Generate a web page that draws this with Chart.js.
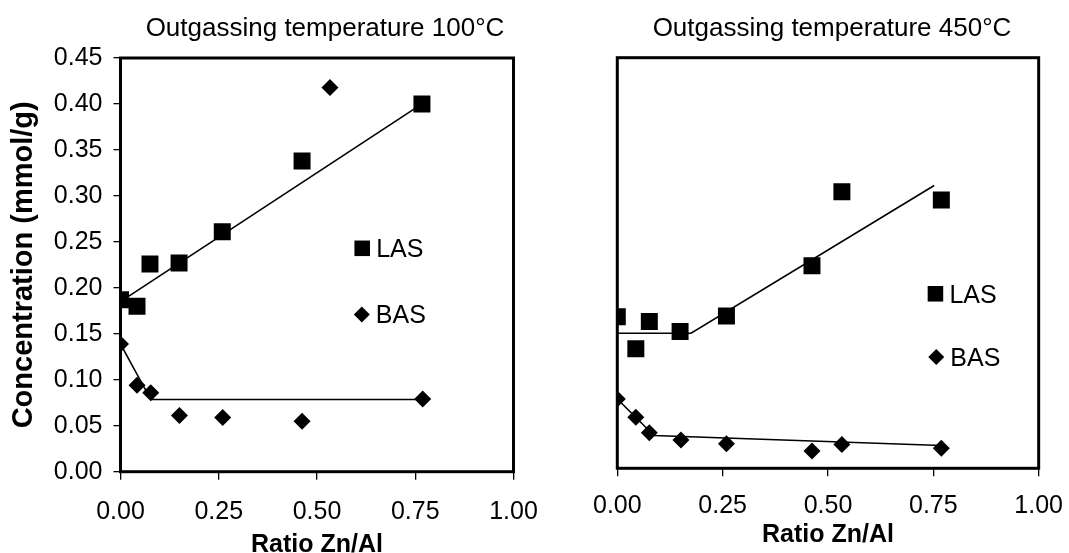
<!DOCTYPE html>
<html>
<head>
<meta charset="utf-8">
<script src="https://cdn.jsdelivr.net/npm/chart.js@4.4.0/dist/chart.umd.min.js"></script>
<style>
  html, body { margin: 0; padding: 0; background: #fff; overflow: hidden; }
  #wrap { position: relative; width: 1069px; height: 553px; overflow: hidden; }
  canvas { position: absolute; top: 0; }
  #chart100 { left: 0; }
  #chart450 { left: 565px; }
</style>
</head>
<body>
<div id="wrap">
  <canvas id="chart100" width="565" height="580"></canvas>
  <canvas id="chart450" width="513" height="580"></canvas>
</div>
<script>
// axis ticks
const xTicks = [0, 0.25, 0.5, 0.75, 1.0];
const yTicks = [0, 0.05, 0.10, 0.15, 0.20, 0.25, 0.30, 0.35, 0.40, 0.45];

// Outgassing 100°C
const ratioLAS100 = [0, 0.042, 0.075, 0.149, 0.259, 0.462, 0.767];
const las100 = [0.187, 0.180, 0.226, 0.227, 0.261, 0.338, 0.400];
const ratioBAS100 = [0, 0.042, 0.077, 0.150, 0.260, 0.462, 0.533, 0.769];
const bas100 = [0.139, 0.094, 0.086, 0.061, 0.059, 0.055, 0.418, 0.079];
const trendLAS100x = [0, 0.77];
const trendLAS100y = [0.185, 0.401];
const trendBAS100x = [0, 0.077, 0.77];
const trendBAS100y = [0.139, 0.0785, 0.0785];

// Outgassing 450°C
const ratioLAS450 = [0, 0.044, 0.076, 0.149, 0.259, 0.462, 0.533, 0.769];
const las450 = [0.166, 0.131, 0.161, 0.150, 0.167, 0.222, 0.303, 0.294];
const ratioBAS450 = [0, 0.044, 0.076, 0.151, 0.259, 0.462, 0.533, 0.769];
const bas450 = [0.076, 0.056, 0.039, 0.031, 0.027, 0.019, 0.026, 0.022];
const trendLAS450x = [0, 0.175, 0.752];
const trendLAS450y = [0.148, 0.148, 0.310];
const trendBAS450x = [0, 0.087, 0.769];
const trendBAS450y = [0.076, 0.036, 0.025];

const FONT = '"Liberation Sans", Arial, sans-serif';

function pts(xs, ys) {
    return xs.map((x, i) => ({ x: x, y: ys[i] }));
}

function marker(ctx, style, x, y, r) {
    ctx.beginPath();
    if (style === 'rect') {
        const s = Math.SQRT1_2 * r;
        ctx.rect(x - s, y - s, 2 * s, 2 * s);
    } else {
        ctx.moveTo(x - r, y);
        ctx.lineTo(x, y - r);
        ctx.lineTo(x + r, y);
        ctx.lineTo(x, y + r);
        ctx.closePath();
    }
    ctx.fill();
}

// plot frame, panel title and the legend that sits inside the plot
const panelPlugin = {
    id: 'panel',
    afterDraw(chart, args, opts) {
        const { ctx, chartArea: a } = chart;
        const w = a.right - a.left, h = a.bottom - a.top;
        ctx.save();
        ctx.strokeStyle = '#000';
        ctx.lineWidth = 3;
        ctx.strokeRect(a.left, a.top, w, h);

        ctx.fillStyle = '#000';
        ctx.font = '26px ' + FONT;
        ctx.textAlign = 'center';
        ctx.textBaseline = 'alphabetic';
        ctx.fillText(opts.title, a.left + w / 2 + opts.titleDx, opts.titleY);

        ctx.font = '25px ' + FONT;
        ctx.textAlign = 'left';
        opts.legend.forEach(item => {
            const mx = a.left + item.fx * w;
            const my = a.top + item.fy * h;
            marker(ctx, item.style, mx, my, item.r);
            ctx.fillText(item.text, mx + 14, my + 9);
        });
        ctx.restore();
    }
};

function datasets(lasX, lasY, basX, basY, tLx, tLy, tBx, tBy) {
    const line = { showLine: true, pointRadius: 0, borderColor: '#000', borderWidth: 1.6, fill: false, tension: 0 };
    return [
        { label: 'LAS', data: pts(lasX, lasY), pointStyle: 'rect', pointRadius: 12, backgroundColor: '#000', borderWidth: 0 },
        { label: 'BAS', data: pts(basX, basY), pointStyle: 'rectRot', pointRadius: 8.5, backgroundColor: '#000', borderWidth: 0 },
        Object.assign({ label: 'LAS trend', data: pts(tLx, tLy) }, line),
        Object.assign({ label: 'BAS trend', data: pts(tBx, tBy) }, line)
    ];
}

function xScale(axisHeight, tickPad, titlePad) {
    return {
        type: 'linear', min: 0, max: 1,
        afterBuildTicks: s => { s.ticks = xTicks.map(v => ({ value: v })); },
        afterFit: s => { s.height = axisHeight; },
        grid: { drawOnChartArea: false, drawTicks: true, tickLength: 8, color: '#000', lineWidth: 1.3 },
        border: { display: false },
        ticks: { color: '#000', padding: tickPad, maxRotation: 0, font: { family: FONT, size: 25 }, callback: v => v.toFixed(2) },
        title: { display: true, text: 'Ratio Zn/Al', color: '#000', font: { family: FONT, size: 25, weight: 'bold' }, padding: { top: 0, bottom: titlePad } }
    };
}

// left panel
new Chart(document.getElementById('chart100'), {
    type: 'scatter',
    data: { datasets: datasets(ratioLAS100, las100, ratioBAS100, bas100, trendLAS100x, trendLAS100y, trendBAS100x, trendBAS100y) },
    options: {
        responsive: false, animation: false, devicePixelRatio: 1,
        layout: { padding: { top: 58, right: 51.5, left: 0, bottom: 0 } },
        scales: {
            x: xScale(108.3, 17, 20),
            y: {
                type: 'linear', min: 0, max: 0.45,
                afterBuildTicks: s => { s.ticks = yTicks.map(v => ({ value: v })); },
                afterFit: s => { s.width = 120.5; },
                grid: { drawOnChartArea: false, drawTicks: true, tickLength: 7, color: '#000', lineWidth: 1.3 },
                border: { display: false },
                ticks: { color: '#000', padding: 11, font: { family: FONT, size: 25 }, callback: v => v.toFixed(2) },
                title: { display: true, text: 'Concentration (mmol/g)', color: '#000', font: { family: FONT, size: 29, weight: 'bold' }, padding: { top: 7, bottom: 0 } }
            }
        },
        plugins: {
            legend: { display: false },
            tooltip: { enabled: false },
            panel: {
                title: 'Outgassing temperature 100°C', titleY: 36, titleDx: 8,
                legend: [
                    { text: 'LAS', style: 'rect', r: 11, fx: 0.615, fy: 0.460 },
                    { text: 'BAS', style: 'rectRot', r: 8, fx: 0.614, fy: 0.620 }
                ]
            }
        }
    },
    plugins: [panelPlugin]
});

// right panel (canvas runs a little past the page edge so the plot can reach it)
new Chart(document.getElementById('chart450'), {
    type: 'scatter',
    data: { datasets: datasets(ratioLAS450, las450, ratioBAS450, bas450, trendLAS450x, trendLAS450y, trendBAS450x, trendBAS450y) },
    options: {
        responsive: false, animation: false, devicePixelRatio: 1,
        layout: { padding: { top: 57.7, right: 25, left: 52.3, bottom: 0 } },
        scales: {
            x: xScale(111.7, 15, 30),
            y: { type: 'linear', min: 0, max: 0.45, display: false }
        },
        plugins: {
            legend: { display: false },
            tooltip: { enabled: false },
            panel: {
                title: 'Outgassing temperature 450°C', titleY: 36, titleDx: 4,
                legend: [
                    { text: 'LAS', style: 'rect', r: 11, fx: 0.755, fy: 0.575 },
                    { text: 'BAS', style: 'rectRot', r: 8, fx: 0.757, fy: 0.729 }
                ]
            }
        }
    },
    plugins: [panelPlugin]
});
</script>
</body>
</html>
